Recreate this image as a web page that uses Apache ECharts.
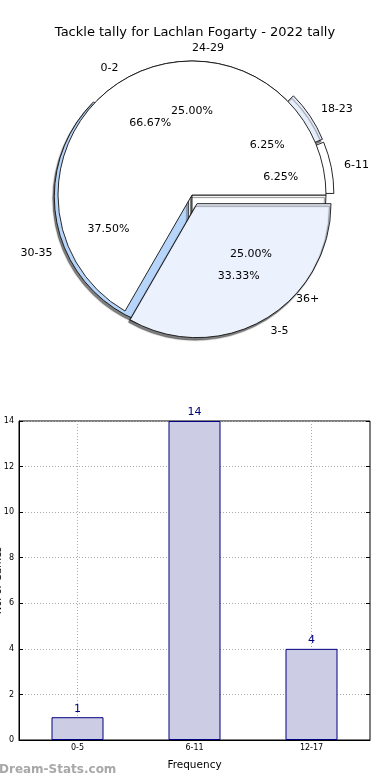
<!DOCTYPE html>
<html><head><meta charset="utf-8">
<script src="https://cdn.jsdelivr.net/npm/echarts@6/dist/echarts.min.js"></script>
<style>html,body{margin:0;padding:0;background:#fff}#c{width:390px;height:780px}</style>
</head><body><div id="c"></div>
<script>
const chartTitle = 'Tackle tally for Lachlan Fogarty - 2022 tally';
// inner (top-layer) pie
const innerNames = ['0-2', '3-5'];
const innerValues = [2, 1];
const innerExploded = [false, true];
// outer (bottom-layer) pie
const outerNames = ['6-11', '18-23', '24-29', '30-35', '36+'];
const outerValues = [1, 1, 4, 6, 4];
const outerExploded = [true, true, false, true, false];
// bar chart
const barCategories = ['0-5', '6-11', '12-17'];
const barValues = [1, 14, 4];
const yMin = 0, yMax = 14, yStep = 2;
const xName = 'Frequency';
const yName = 'No. of Games';
const watermark = 'Dream-Stats.com';

// styles
const innerColors = ['#ffffff', '#ebf1fd'];
const outerColors = ['#ffffff', '#e6eefb', '#cfe0f8', '#b7d5fb', '#ffffff'];
const outerGroup = [0, 0, 0, 1, 0];   // which explode-distance layer each outer slice sits in
const FONT = 'DejaVu Sans';
const C = [192, 195];
const R = 134;
const shadow = { shadowColor: 'rgba(0,0,0,0.5)', shadowBlur: 1, shadowOffsetX: -1.5, shadowOffsetY: 2.5 };
const hidden = { color: 'transparent', borderWidth: 0, borderColor: 'transparent' };

function pieData(names, values, exploded, colors, withShadow, visible) {
  return names.map((n, i) => {
    if (visible && !visible[i]) {
      return { name: n, value: values[i], itemStyle: hidden, label: { show: false } };
    }
    return {
      name: n, value: values[i], selected: exploded[i],
      itemStyle: Object.assign({ color: colors[i], borderColor: '#111', borderWidth: 0.9 },
        withShadow[i] ? shadow : {})
    };
  });
}
function overlayData(names, values, exploded) {
  return names.map((n, i) => ({ name: n, value: values[i], selected: exploded[i] }));
}
const nameLabel = {
  show: true, position: 'outside', formatter: '{b}', color: '#000',
  fontFamily: FONT, fontSize: 11, distanceToLabelLine: 0
};
const pctLabel = {
  show: true, position: 'inside', color: '#000', fontFamily: FONT, fontSize: 11,
  formatter: p => p.percent.toFixed(2) + '%'
};
const basePie = {
  type: 'pie', center: C, startAngle: 0, clockwise: false,
  avoidLabelOverlap: false, selectedMode: 'multiple', animation: false,
  emphasis: { disabled: true }, labelLine: { show: false, length: 13, length2: 0 },
  percentPrecision: 2
};

const chart = echarts.init(document.getElementById('c'));
chart.setOption({
  backgroundColor: '#fff',
  animation: false,
  title: {
    text: chartTitle, left: 'center', top: 21,
    textStyle: { fontFamily: FONT, fontSize: 13, fontWeight: 'normal', color: '#000' }
  },
  graphic: [{
    type: 'text', left: -1, top: 764,
    style: { text: watermark, fontFamily: FONT, fontSize: 12, fontWeight: 'bold', fill: '#a8a8a8' }
  }],
  grid: { left: 19, right: 20, top: 421, bottom: 40, containLabel: false, outerBoundsMode: 'none', show: true, borderColor: '#000', borderWidth: 1 },
  xAxis: {
    type: 'category', data: barCategories, boundaryGap: true,
    name: xName, nameLocation: 'middle', nameGap: 20, nameMoveOverlap: false,
    nameTextStyle: { fontFamily: FONT, fontSize: 10.5, color: '#000' },
    axisLine: { lineStyle: { color: '#000' } },
    axisTick: { alignWithLabel: true, inside: true, length: 4, lineStyle: { color: '#000' } },
    axisLabel: { fontFamily: FONT, fontSize: 8, color: '#000', margin: 4 },
    splitLine: { show: true, alignWithLabel: true, lineStyle: { color: '#aaa', type: [1, 2], width: 1 } }
  },
  yAxis: [{
    type: 'value', min: yMin, max: yMax, interval: yStep,
    name: yName, nameLocation: 'middle', nameGap: 16, nameRotate: 90, nameMoveOverlap: false,
    nameTextStyle: { fontFamily: FONT, fontSize: 10, color: '#000' },
    axisLine: { show: true, lineStyle: { color: '#000' } },
    axisTick: { show: true, inside: true, length: 4, lineStyle: { color: '#000' } },
    axisLabel: { fontFamily: FONT, fontSize: 8, color: '#000', margin: 5 },
    splitLine: { show: true, lineStyle: { color: '#aaa', type: [1, 2], width: 1 } }
  }, {
    type: 'value', min: yMin, max: yMax, interval: yStep, position: 'right',
    axisLine: { show: false }, axisLabel: { show: false }, splitLine: { show: false },
    axisTick: { show: true, inside: true, length: 4, lineStyle: { color: '#000' } }
  }],
  series: [
    Object.assign({}, basePie, {
      name: 'outerNear', radius: [0, R], selectedOffset: 4, z: 1,
      label: nameLabel,
      data: pieData(outerNames, outerValues, outerExploded, outerColors, [true, true, true, true, true],
        outerGroup.map(g => g === 1))
    }),
    Object.assign({}, basePie, {
      name: 'outerFar', radius: [0, R], selectedOffset: 8, z: 1,
      label: nameLabel,
      data: pieData(outerNames, outerValues, outerExploded, outerColors, [false, true, true, true, true],
        outerGroup.map(g => g === 0))
    }),
    Object.assign({}, basePie, {
      name: 'inner', radius: [0, R], selectedOffset: 10, z: 2,
      label: nameLabel,
      data: pieData(innerNames, innerValues, innerExploded, innerColors, [false, true])
    }),
    Object.assign({}, basePie, {
      name: 'outerPct', radius: [0, R * 1.2], selectedOffset: 7, z: 3, silent: true,
      itemStyle: { color: 'transparent', borderWidth: 0 },
      label: pctLabel,
      data: overlayData(outerNames, outerValues, outerExploded)
    }),
    Object.assign({}, basePie, {
      name: 'innerPct', radius: [0, R * 1.2], selectedOffset: 10, z: 3, silent: true,
      itemStyle: { color: 'transparent', borderWidth: 0 },
      label: pctLabel,
      data: overlayData(innerNames, innerValues, innerExploded)
    }),
    {
      type: 'bar', data: barValues, barWidth: 52, animation: false,
      itemStyle: { color: '#ccccE4', borderColor: '#000080', borderWidth: 1 },
      label: { show: true, position: 'top', distance: 3, color: '#000080', fontFamily: FONT, fontSize: 11 },
      emphasis: { disabled: true }
    }
  ]
});
</script>
</body></html>
